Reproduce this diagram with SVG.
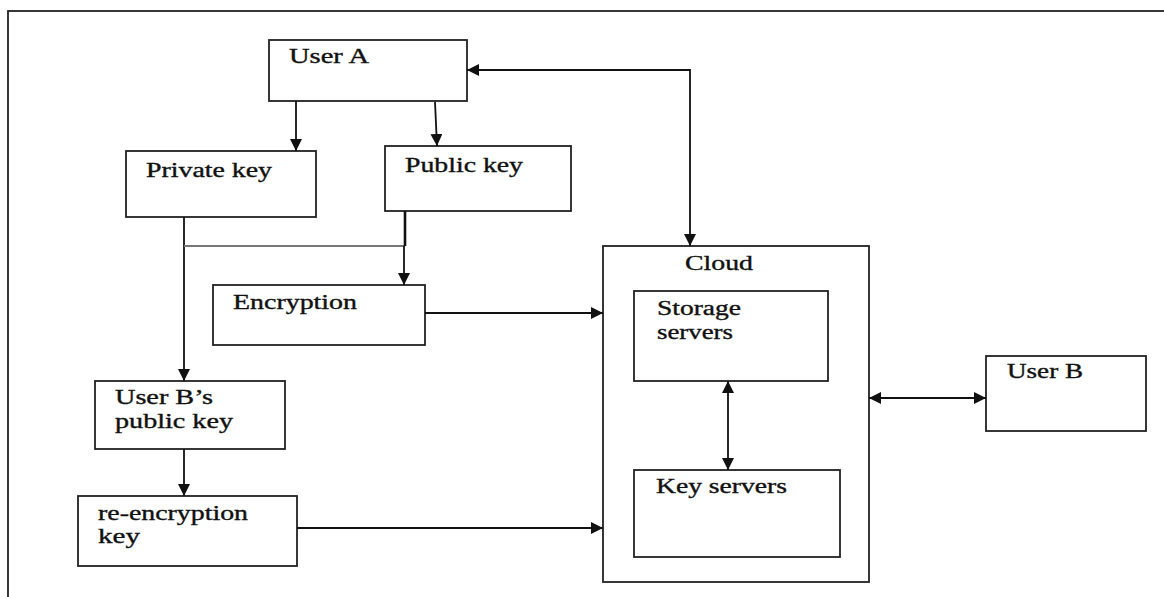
<svg xmlns="http://www.w3.org/2000/svg" width="1164" height="597" viewBox="0 0 1164 597">
<style>
.box{fill:#fff;stroke:#222;stroke-width:1.8}
.frame{fill:none;stroke:#222;stroke-width:1.8}
.t{font-family:"Liberation Serif","Times New Roman",serif;font-size:20px;fill:#111;stroke:#111;stroke-width:0.35}
.c{fill:none;stroke:#111;stroke-width:1.8}
.g{fill:none;stroke:#777;stroke-width:1.8}
</style>
<defs>
<marker id="ah" viewBox="0 0 12 12" markerUnits="userSpaceOnUse" markerWidth="12" markerHeight="12" refX="12" refY="6" orient="auto-start-reverse">
<path d="M0,0 L12,6 L0,12 z" fill="#111"/>
</marker>
</defs>
<rect class="frame" x="8" y="11" width="1170" height="600"/>
<g id="userA"><rect class="box" x="269" y="40" width="198" height="61"/><text class="t" x="289" y="63" textLength="80" lengthAdjust="spacingAndGlyphs">User A</text></g>
<g id="privateKey"><rect class="box" x="126" y="151" width="190" height="66"/><text class="t" x="146" y="177" textLength="126" lengthAdjust="spacingAndGlyphs">Private key</text></g>
<g id="publicKey"><rect class="box" x="385" y="146" width="186" height="65"/><text class="t" x="405" y="172" textLength="118" lengthAdjust="spacingAndGlyphs">Public key</text></g>
<g id="encryption"><rect class="box" x="213" y="285" width="212" height="60"/><text class="t" x="233" y="309" textLength="124" lengthAdjust="spacingAndGlyphs">Encryption</text></g>
<g id="userBpk"><rect class="box" x="95" y="381" width="190" height="68"/><text class="t" x="115" y="404" textLength="98" lengthAdjust="spacingAndGlyphs">User B’s</text><text class="t" x="115" y="428" textLength="118" lengthAdjust="spacingAndGlyphs">public key</text></g>
<g id="reenc"><rect class="box" x="78" y="496" width="219" height="70"/><text class="t" x="98" y="520" textLength="150" lengthAdjust="spacingAndGlyphs">re-encryption</text><text class="t" x="98" y="543" textLength="42" lengthAdjust="spacingAndGlyphs">key</text></g>
<g id="cloud"><rect class="box" x="603" y="246" width="266" height="336"/><text class="t" x="685" y="270" textLength="68" lengthAdjust="spacingAndGlyphs">Cloud</text></g>
<g id="storage"><rect class="box" x="634" y="291" width="194" height="90"/><text class="t" x="657" y="315" textLength="84" lengthAdjust="spacingAndGlyphs">Storage</text><text class="t" x="657" y="339" textLength="76" lengthAdjust="spacingAndGlyphs">servers</text></g>
<g id="keyServers"><rect class="box" x="634" y="470" width="206" height="87"/><text class="t" x="656" y="493" textLength="131" lengthAdjust="spacingAndGlyphs">Key servers</text></g>
<g id="userB"><rect class="box" x="986" y="356" width="160" height="75"/><text class="t" x="1007" y="378" textLength="76" lengthAdjust="spacingAndGlyphs">User B</text></g>
<g id="connectors">
<path class="c" d="M296,101 L296,151" marker-end="url(#ah)"/>
<path class="c" d="M435,102 L437,146" marker-end="url(#ah)"/>
<path class="c" d="M184,217 L184,381" marker-end="url(#ah)"/>
<path class="g" d="M184,246 L405,246"/>
<path class="c" d="M405,211 L405,246" style="stroke-width:2.6"/>
<path class="c" d="M404,246 L404,285" marker-end="url(#ah)"/>
<path class="c" d="M425,313 L603,313" marker-end="url(#ah)"/>
<path class="c" d="M184,449 L184,496" marker-end="url(#ah)"/>
<path class="c" d="M297,528 L603,528" marker-end="url(#ah)"/>
<path class="c" d="M467,70 L690,70 L690,246" marker-start="url(#ah)" marker-end="url(#ah)"/>
<path class="c" d="M728,381 L728,470" marker-start="url(#ah)" marker-end="url(#ah)"/>
<path class="c" d="M869,398 L986,398" marker-start="url(#ah)" marker-end="url(#ah)"/>
</g>
</svg>
